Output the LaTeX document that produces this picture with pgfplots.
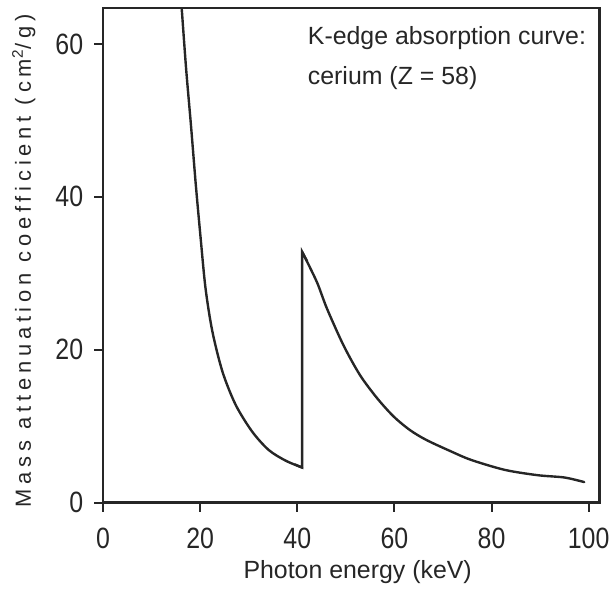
\documentclass[border=0pt]{standalone}
\usepackage{graphicx}
\usepackage{pgfplots}
\pgfplotsset{compat=1.18}
\usepackage{fontspec}
\setmainfont{Liberation Sans}
\definecolor{ink}{HTML}{262626}
\begin{document}
\begin{tikzpicture}
\begin{axis}[
  name=ax,
  scale only axis,
  width=249.2pt, height=248.5pt,
  xmin=0, xmax=102.2, ymin=0, ymax=64.7,
  xtick={0,20,40,60,80,100},
  ytick={0,20,40,60},
  xtick pos=bottom, ytick pos=left,
  tick align=outside,
  major tick length=4.5pt,
  axis line style={line width=1.3pt, ink},
  every tick/.style={line width=1pt, ink},
  /pgf/number format/assume math mode=true,
  xticklabel={\scalebox{1}[1.18]{\axisdefaultticklabel}},
  yticklabel={\scalebox{1}[1.18]{\axisdefaultticklabel}},
  tick label style={font=\fontsize{12.5}{14}\selectfont, text=ink},
  xticklabel style={yshift=-4.5pt},
  yticklabel style={xshift=-2pt},
  xlabel={Photon energy (keV)},
  ylabel={\addfontfeatures{LetterSpace=22}Mass attenuation coefficient (cm\textsuperscript{2}/g)},
  xlabel style={font=\fontsize{12.5}{14}\selectfont, text=ink, at={(axis description cs:0.513,-0.141)}, anchor=center},
  ylabel style={font=\fontsize{11}{13}\selectfont, text=ink, at={(axis description cs:-0.16,0.489)}, anchor=center},
  clip=true,
]
\addplot[ink, line width=1.2pt, smooth, tension=0.5, line cap=round] coordinates {
(16.0,66.0) (16.2,64.5) (17.1,56.7) (18.1,49.3) (19.1,41.5) (20.1,34.5) (21.1,28.0) (22.5,22.4) (24.6,17.1)
(27.3,12.8) (30.7,9.3) (34.1,6.9) (37.6,5.5) (41.0,4.6)
};
\addplot[ink, line width=1.2pt, line cap=round, line join=miter] coordinates {
(39.5,5.0) (41.0,4.6) (41.0,32.8) (42.0,31.6)
};
\addplot[ink, line width=1.2pt, smooth, tension=0.5, line cap=round] coordinates {
(41.0,32.8) (44.0,28.9) (46.1,25.4) (49.5,20.6) (52.9,16.7) (56.4,13.7) (59.8,11.3)
(63.2,9.5) (66.6,8.2) (71.7,6.7) (75.8,5.6) (82.7,4.3) (89.5,3.6) (95.0,3.3) (99.1,2.7)
};
\node[anchor=north west, align=left, text=ink, font=\fontsize{12.5}{20}\selectfont, inner sep=0pt]
  at (axis cs:42.1,62.3) {K-edge absorption curve:\\cerium (Z = 58)};
\end{axis}
\draw[ink, line width=1.3pt] (ax.south west) rectangle (ax.north east);
\path (ax.south west) ++(-51.8pt,-43pt);
\path (ax.north east) ++(7pt,4pt);
\end{tikzpicture}
\end{document}
